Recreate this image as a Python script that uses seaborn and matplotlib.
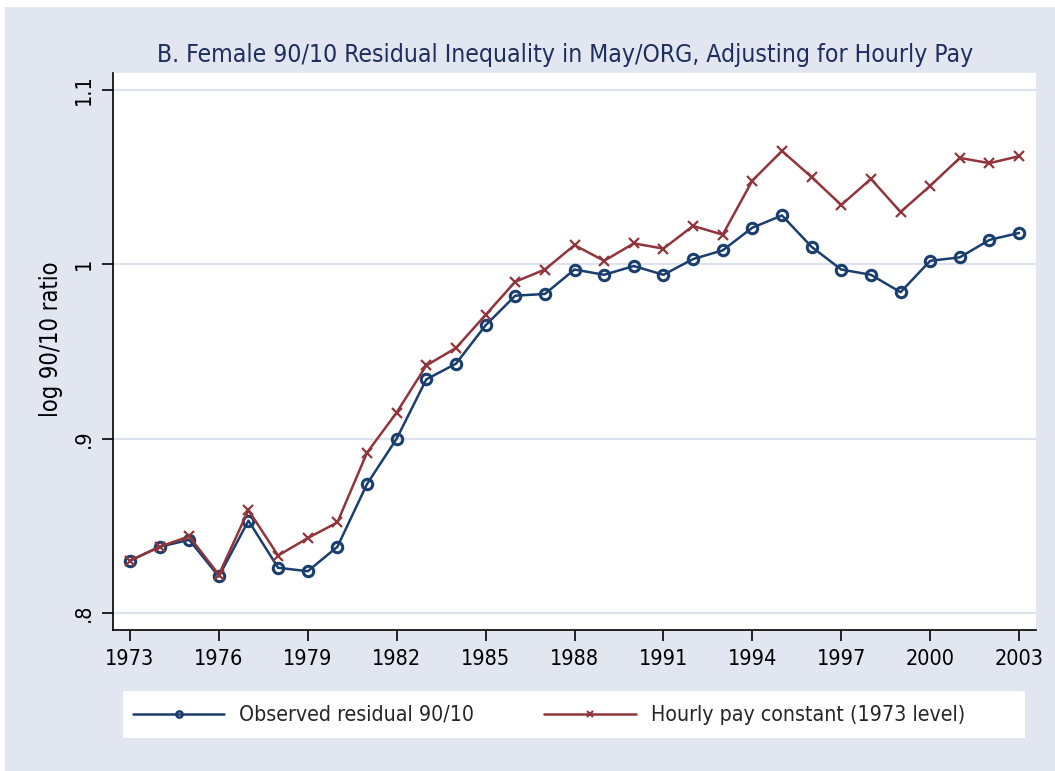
import matplotlib
matplotlib.use("Agg")
import matplotlib.pyplot as plt
from matplotlib.patches import Rectangle
from matplotlib.lines import Line2D
import seaborn as sns
import pandas as pd

# Survey years
years = list(range(1973, 2004))

# Female residual log 90/10 ratio, observed
observed = [0.830, 0.838, 0.842, 0.821, 0.853, 0.826, 0.824, 0.838, 0.874, 0.900,
            0.934, 0.943, 0.965, 0.982, 0.983, 0.997, 0.994, 0.999, 0.994, 1.003,
            1.008, 1.021, 1.028, 1.010, 0.997, 0.994, 0.984, 1.002, 1.004, 1.014,
            1.018]

# Counterfactual holding hourly pay at its 1973 level
hourly_const = [0.830, 0.838, 0.844, 0.822, 0.859, 0.833, 0.843, 0.852, 0.892, 0.915,
                0.942, 0.952, 0.971, 0.990, 0.997, 1.011, 1.002, 1.012, 1.009, 1.022,
                1.017, 1.048, 1.065, 1.050, 1.034, 1.049, 1.030, 1.045, 1.061, 1.058,
                1.062]

x_ticks = [1973, 1976, 1979, 1982, 1985, 1988, 1991, 1994, 1997, 2000, 2003]
y_ticks = [0.8, 0.9, 1.0, 1.1]
y_tick_labels = [".8", ".9", "1", "1.1"]

series_labels = ["Observed residual 90/10", "Hourly pay constant (1973 level)"]
title = "B. Female 90/10 Residual Inequality in May/ORG, Adjusting for Hourly Pay"
y_label = "log 90/10 ratio"

NAVY = "#1A3F6E"
MAROON = "#90353B"
BG = "#E1E6F0"
GRID = "#DDE3EE"

sns.set_theme(style="white")
plt.rcParams["font.family"] = ["DejaVu Sans"]
plt.rcParams["font.stretch"] = "condensed"

W, H = 1055, 771
fig = plt.figure(figsize=(W / 100, H / 100), dpi=100, facecolor="white")

def fx(px):
    return px / W

def fy(py):
    return 1 - py / H

# graph region
fig.add_artist(Rectangle((fx(5), 0), 1 - fx(5), fy(7), transform=fig.transFigure,
                         facecolor=BG, edgecolor="none", zorder=-10))

ax = fig.add_axes([fx(113), fy(630), fx(1036) - fx(113), fy(73) - fy(630)])
ax.set_facecolor("white")

df = pd.DataFrame({"year": years, "observed": observed, "hourly": hourly_const})

sns.lineplot(data=df, x="year", y="observed", ax=ax, color=NAVY, lw=1.8,
             marker="o", markersize=7.5, markerfacecolor="none",
             markeredgecolor=NAVY, markeredgewidth=2.2, zorder=3)
sns.lineplot(data=df, x="year", y="hourly", ax=ax, color=MAROON, lw=1.8,
             marker="x", markersize=7, markeredgecolor=MAROON,
             markeredgewidth=1.6, zorder=4)

ax.set_xlim(1972.43, 2003.57)
ax.set_ylim(0.7903, 1.1097)
ax.set_xticks(x_ticks)
ax.set_xticklabels([str(t) for t in x_ticks])
ax.set_yticks(y_ticks)
ax.set_yticklabels(y_tick_labels, rotation=90, va="center")

for v in y_ticks:
    ax.axhline(v, color=GRID, lw=1.5, zorder=1)

for side in ["top", "right"]:
    ax.spines[side].set_visible(False)
for side in ["left", "bottom"]:
    ax.spines[side].set_color("black")
    ax.spines[side].set_linewidth(1.2)

TICK_FS = 15.5
ax.tick_params(axis="both", which="major", direction="out", length=8, width=1.2,
               color="black", labelsize=TICK_FS, labelcolor="black",
               bottom=True, left=True)
ax.tick_params(axis="x", pad=6)
ax.tick_params(axis="y", pad=6)

ax.set_xlabel("")
ax.set_ylabel(y_label, fontsize=17, color="black")
ax.yaxis.set_label_coords((63 - 113) / 923, (630 - 339) / 557)

fig.text(fx(565), fy(55), title, ha="center", va="center", fontsize=17.7,
         color="#1E2F5E")

# legend box
fig.add_artist(Rectangle((fx(123), fy(738)), fx(1025) - fx(123), fy(691) - fy(738),
                         transform=fig.transFigure, facecolor="white",
                         edgecolor="none", zorder=1))
handles = [
    Line2D([], [], color=NAVY, lw=1.8, marker="o", markersize=4.5,
           markerfacecolor="none", markeredgecolor=NAVY, markeredgewidth=1.8),
    Line2D([], [], color=MAROON, lw=1.8, marker="x", markersize=4.5,
           markeredgecolor=MAROON, markeredgewidth=1.5),
]
LEG_FS = 15.3
leg = fig.legend(handles, series_labels, loc="center left",
                 bbox_to_anchor=(fx(133), fy(715)), ncol=2, frameon=False,
                 fontsize=LEG_FS, borderpad=0, borderaxespad=0,
                 handlelength=4.3, handletextpad=0.7, columnspacing=3.3,
                 numpoints=1)
leg.set_zorder(5)

fig.savefig("out.png", dpi=100, facecolor="white")
